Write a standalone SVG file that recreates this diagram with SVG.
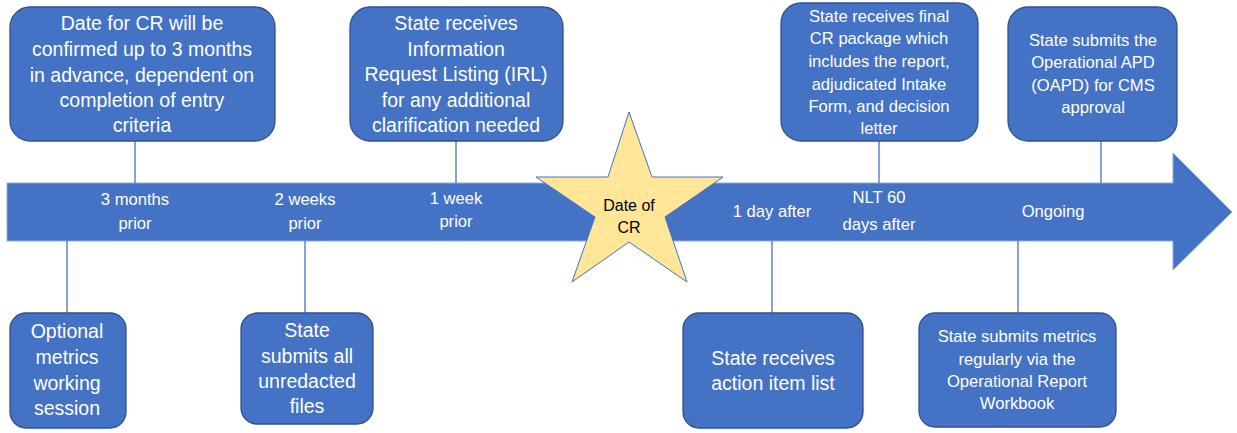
<svg xmlns="http://www.w3.org/2000/svg" width="1237" height="433" viewBox="0 0 1237 433">
<style>
.box{fill:#4472C4;stroke:#2F528F;stroke-width:1.3}
.t{font-family:"Liberation Sans",Arial,sans-serif;fill:#fff;text-anchor:middle}
.l{font-size:19.5px}
.s{font-size:16.6px}
.c{stroke:#4472C4;stroke-width:1.3;fill:none}
</style>
<rect width="1237" height="433" fill="#fff"/>
<g id="timeline">
<polygon points="7,183 1173,183 1173,153 1232,212 1173,270 1173,241 7,241" fill="#4472C4" stroke="#8FAADC" stroke-width="1"/>
<g class="t s">
<text x="135" y="205">3 months</text><text x="135" y="229">prior</text>
<text x="305" y="205">2 weeks</text><text x="305" y="229">prior</text>
<text x="456" y="204">1 week</text><text x="456" y="227">prior</text>
<text x="772" y="217">1 day after</text>
<text x="879" y="203">NLT 60</text><text x="879" y="230">days after</text>
<text x="1053" y="217">Ongoing</text>
</g>
</g>
<g id="connectors">
<line class="c" x1="135" y1="141" x2="135" y2="183"/>
<line class="c" x1="456" y1="141" x2="456" y2="183"/>
<line class="c" x1="879" y1="141" x2="879" y2="183"/>
<line class="c" x1="1101" y1="141" x2="1101" y2="183"/>
<line class="c" x1="67" y1="241" x2="67" y2="313"/>
<line class="c" x1="305" y1="241" x2="305" y2="313"/>
<line class="c" x1="772" y1="241" x2="772" y2="313"/>
<line class="c" x1="1018" y1="241" x2="1018" y2="313"/>
</g>
<g id="star">
<polygon points="629,112 652,177 723,177 665,217 687,282 629,242 572,282 595,217 536,177 608,177" fill="#FFE699" stroke="#4472C4" stroke-width="1"/>
<text x="629" y="211" font-family="Liberation Sans,Arial,sans-serif" font-size="16" text-anchor="middle" fill="#000">Date of</text>
<text x="629" y="233" font-family="Liberation Sans,Arial,sans-serif" font-size="16" text-anchor="middle" fill="#000">CR</text>
</g>
<g id="n1">
<rect class="box" x="10" y="7" width="265" height="134" rx="20"/>
<text class="t l"><tspan x="142" y="30">Date for CR will be</tspan><tspan x="142" y="56">confirmed up to 3 months</tspan><tspan x="142" y="82">in advance, dependent on</tspan><tspan x="142" y="107">completion of entry</tspan><tspan x="142" y="132">criteria</tspan></text>
</g>
<g id="n2">
<rect class="box" x="350" y="7" width="213" height="134" rx="20"/>
<text class="t l"><tspan x="456" y="30">State receives</tspan><tspan x="456" y="56">Information</tspan><tspan x="456" y="81">Request Listing (IRL)</tspan><tspan x="456" y="107">for any additional</tspan><tspan x="456" y="132">clarification needed</tspan></text>
</g>
<g id="n3">
<rect class="box" x="781" y="3" width="197" height="138" rx="20"/>
<text class="t s"><tspan x="879" y="22">State receives final</tspan><tspan x="879" y="44">CR package which</tspan><tspan x="879" y="67">includes the report,</tspan><tspan x="879" y="90">adjudicated Intake</tspan><tspan x="879" y="112">Form, and decision</tspan><tspan x="879" y="134">letter</tspan></text>
</g>
<g id="n4">
<rect class="box" x="1008" y="7" width="169" height="134" rx="20"/>
<text class="t s"><tspan x="1093" y="46">State submits the</tspan><tspan x="1093" y="68">Operational APD</tspan><tspan x="1093" y="91">(OAPD) for CMS</tspan><tspan x="1093" y="113">approval</tspan></text>
</g>
<g id="n5">
<rect class="box" x="10" y="313" width="116" height="115" rx="16"/>
<text class="t l"><tspan x="67" y="338">Optional</tspan><tspan x="67" y="364">metrics</tspan><tspan x="67" y="390">working</tspan><tspan x="67" y="415">session</tspan></text>
</g>
<g id="n6">
<rect class="box" x="241" y="313" width="132" height="111" rx="16"/>
<text class="t l"><tspan x="307" y="337">State</tspan><tspan x="307" y="363">submits all</tspan><tspan x="307" y="388">unredacted</tspan><tspan x="307" y="413">files</tspan></text>
</g>
<g id="n7">
<rect class="box" x="683" y="313" width="180" height="115" rx="16"/>
<text class="t l"><tspan x="773" y="365">State receives</tspan><tspan x="773" y="390">action item list</tspan></text>
</g>
<g id="n8">
<rect class="box" x="919" y="313" width="197" height="114" rx="16"/>
<text class="t s"><tspan x="1017" y="342">State submits metrics</tspan><tspan x="1017" y="365">regularly via the</tspan><tspan x="1017" y="387">Operational Report</tspan><tspan x="1017" y="409">Workbook</tspan></text>
</g>
</svg>
